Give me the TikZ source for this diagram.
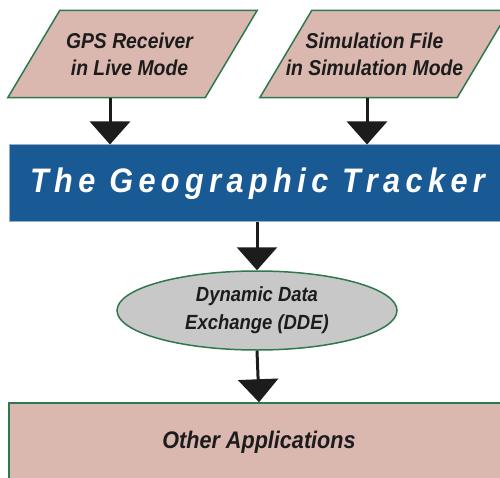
\documentclass[tikz,border=0pt]{standalone}
\usepackage{fontspec}
\usetikzlibrary{shapes.geometric,arrows.meta,backgrounds}
\newfontfamily\diagfont{Liberation Sans}[FakeStretch=0.9]
\definecolor{boxpink}{RGB}{219,184,175}
\definecolor{edgegreen}{RGB}{46,120,78}
\definecolor{trackblue}{RGB}{26,90,148}
\definecolor{trackrim}{RGB}{150,175,200}
\definecolor{ddegray}{RGB}{200,200,200}
\definecolor{ink}{RGB}{28,28,28}
\tikzstyle{source}=[rectangle,minimum width=197pt,minimum height=87pt,inner sep=0pt,align=center,text=ink,font={\diagfont\bfseries\itshape\fontsize{21.5}{27}\selectfont}]
\tikzstyle{sourceshape}=[fill=boxpink,draw=edgegreen,line width=1.5pt,line join=miter]
\tikzstyle{tracker}=[rectangle,fill=trackblue,draw=trackrim,line width=1pt,minimum width=497pt,minimum height=77pt,inner sep=0pt,text=white,font={\diagfont\bfseries\itshape\fontsize{34}{40}\selectfont\addfontfeature{LetterSpace=16}}]
\tikzstyle{exchange}=[ellipse,fill=ddegray,draw=edgegreen,line width=1.5pt,minimum width=280pt,minimum height=79pt,inner sep=0pt,align=center,text=ink,font={\diagfont\bfseries\itshape\fontsize{20.5}{28}\selectfont}]
\tikzstyle{sink}=[rectangle,fill=boxpink,draw=edgegreen,line width=1.5pt,minimum width=500pt,minimum height=78pt,inner sep=0pt,text=ink,font={\diagfont\bfseries\itshape\fontsize{24}{28}\selectfont}]
\tikzstyle{flow}=[draw=ink,line width=3pt,-{Triangle[width=40pt,length=23pt]}]

\begin{document}
\begin{tikzpicture}[x=1pt,y=-1pt]
\useasboundingbox (0,0) rectangle (500,478);
\node[source] at (129.5, 54) (gps) {GPS Receiver\\in Live Mode};
\node[source] at (374.5, 54) (simfile) {Simulation File\\in Simulation Mode};
\begin{pgfonlayer}{background}
\draw[sourceshape] ([xshift=-23pt]gps.south west) -- ([xshift=-23pt]gps.south east) -- ([xshift=29pt]gps.north east) -- ([xshift=29pt]gps.north west) -- cycle;
\draw[sourceshape] ([xshift=-16pt]simfile.south west) -- ([xshift=-16pt]simfile.south east) -- ([xshift=36pt]simfile.north east) -- ([xshift=36pt]simfile.north west) -- cycle;
\end{pgfonlayer}
\node[tracker] at (257.5, 183.5) (geotrack) {The Geographic Tracker};
\node[exchange] at (257, 310.5) (dde) {Dynamic Data\\Exchange (DDE)};
\node[sink] at (259, 442) (apps) {Other Applications};
\coordinate (gpsout) at ([xshift=-19.5pt]gps.south);
\coordinate (simout) at ([xshift=-7.5pt]simfile.south);
\draw[flow] (gpsout) -- (gpsout |- geotrack.north);
\draw[flow] (simout) -- (simout |- geotrack.north);
\draw[flow] (geotrack.south -| dde.north) -- (dde.north);
\draw[flow] (dde.south) -- (apps.north);
\end{tikzpicture}
\end{document}
